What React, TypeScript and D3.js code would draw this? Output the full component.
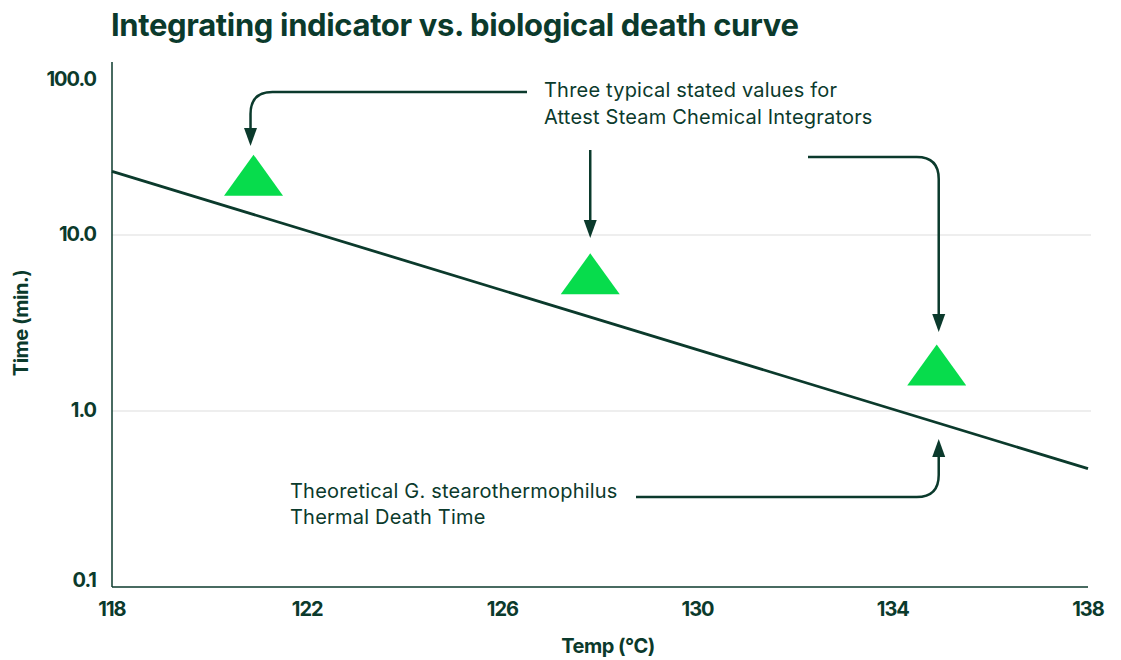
import React from "react";
import * as d3 from "d3";

const tempTicks = [118, 122, 126, 130, 134, 138];
const timeTicks = [0.1, 1, 10, 100];
const timeTickLabels = ["0.1", "1.0", "10.0", "100.0"];
const gridTimes = [1, 10];
const deathCurveTemps = [118, 138];
const deathCurveTimes = [23, 0.47];
const indicatorTemps = [120.9, 127.8, 134.9];
const indicatorTimes = [20, 5.5, 1.67];

const W = 1121;
const H = 660;
const DARK = "#0b3a2c";
const GREEN = "#07dc4c";
const FONT = "Inter, 'Noto Sans', sans-serif";

export default function App() {
  const x = d3.scaleLinear().domain([118, 138]).range([112, 1088]);
  const y = d3.scaleLog().domain([0.1, 100]).range([587, 59]);
  const plotTop = 62;
  const plotBottom = y(0.1);

  const curve = d3
    .line<number>()
    .x((d) => x(d))
    .y((_, i) => y(deathCurveTimes[i]))(deathCurveTemps) as string;

  const triW = 59;
  const triH = 41;
  const tri = (cx: number, cy: number) =>
    `M${cx},${cy - (2 * triH) / 3}L${cx + triW / 2},${cy + triH / 3}L${cx - triW / 2},${cy + triH / 3}Z`;

  const headDown = (tx: number, ty: number, len = 18, w = 13) =>
    `M${tx},${ty}L${tx - w / 2},${ty - len}L${tx + w / 2},${ty - len}Z`;
  const headUp = (tx: number, ty: number, len = 18, w = 13) =>
    `M${tx},${ty}L${tx - w / 2},${ty + len}L${tx + w / 2},${ty + len}Z`;

  const ax1 = x(indicatorTemps[0]) - 3;
  const ax2 = x(indicatorTemps[1]);
  const ax3 = x(indicatorTemps[2]) + 2;
  const r = 22;

  const arrow1 = `M527,92H${ax1 + r}Q${ax1},92 ${ax1},${92 + r}V130`;
  const arrow2 = `M${ax2},150V222`;
  const arrow3 = `M808,157H${ax3 - r}Q${ax3},157 ${ax3},${157 + r}V316`;
  const arrow4 = `M636,497H${ax3 - r}Q${ax3},497 ${ax3},${497 - r}V455`;

  return (
    <svg width={W} height={H} style={{ display: "block", position: "absolute", left: 0, top: 0 }}>
      <rect width={W} height={H} fill="#fff" />
      <text x={111} y={36} fill={DARK} fontFamily={FONT} fontWeight={700} fontSize={31} letterSpacing={-0.35}>
        Integrating indicator vs. biological death curve
      </text>

      {gridTimes.map((t) => (
        <line key={t} x1={112} x2={1091} y1={y(t)} y2={y(t)} stroke="#e9e9e9" strokeWidth={1.5} />
      ))}

      <line x1={112} x2={112} y1={plotTop} y2={plotBottom} stroke={DARK} strokeWidth={1.5} />
      <line x1={112} x2={1088} y1={plotBottom} y2={plotBottom} stroke={DARK} strokeWidth={1.5} />

      {timeTicks.map((t, i) => (
        <text
          key={t}
          x={96}
          y={Math.min(Math.max(y(t), 80), 581) + 1}
          textAnchor="end"
          dominantBaseline="middle"
          fill={DARK}
          fontFamily={FONT}
          fontWeight={700}
          fontSize={20}
          letterSpacing={-1}
        >
          {timeTickLabels[i]}
        </text>
      ))}

      {tempTicks.map((t) => (
        <text
          key={t}
          x={x(t)}
          y={611}
          textAnchor="middle"
          dominantBaseline="middle"
          fill={DARK}
          fontFamily={FONT}
          fontWeight={700}
          fontSize={20}
          letterSpacing={-1}
        >
          {t}
        </text>
      ))}

      <text x={608} y={648} textAnchor="middle" dominantBaseline="middle" fill={DARK} fontFamily={FONT} fontWeight={700} fontSize={20} letterSpacing={-0.5}>
        Temp (°C)
      </text>
      <text
        transform={`translate(23,323) rotate(-90)`}
        textAnchor="middle"
        dominantBaseline="middle"
        fill={DARK}
        fontFamily={FONT}
        fontWeight={700}
        fontSize={20}
        letterSpacing={-0.5}
      >
        Time (min.)
      </text>

      <path d={curve} fill="none" stroke={DARK} strokeWidth={2.8} />

      {indicatorTemps.map((t, i) => (
        <path key={t} d={tri(x(t), y(indicatorTimes[i]))} fill={GREEN} />
      ))}

      <g fill="none" stroke={DARK} strokeWidth={2.5}>
        <path d={arrow1} />
        <path d={arrow2} />
        <path d={arrow3} />
        <path d={arrow4} />
      </g>
      <g fill={DARK}>
        <path d={headDown(ax1, 146)} />
        <path d={headDown(ax2, 238)} />
        <path d={headDown(ax3, 332)} />
        <path d={headUp(ax3, 439)} />
      </g>

      <g fill={DARK} fontFamily={FONT} fontSize={20} fontWeight={400} letterSpacing={0.2}>
        <text x={544} y={97}>Three typical stated values for</text>
        <text x={544} y={124}>Attest Steam Chemical Integrators</text>
        <text x={290} y={498}>Theoretical G. stearothermophilus</text>
        <text x={290} y={524}>Thermal Death Time</text>
      </g>
    </svg>
  );
}
